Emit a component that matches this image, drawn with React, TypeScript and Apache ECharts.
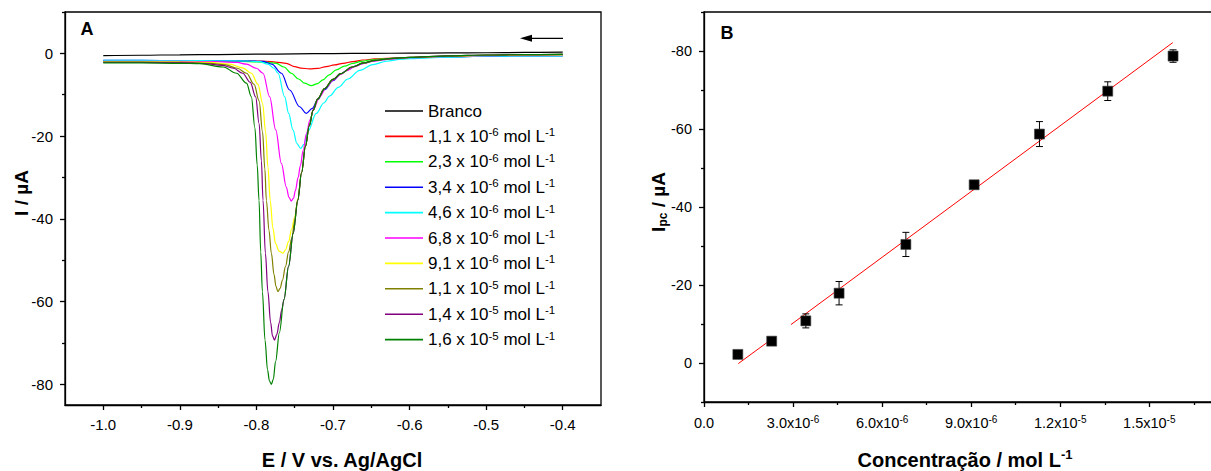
import React, { useEffect, useRef } from 'react';
import * as echarts from 'echarts';

const FONT = '"Liberation Sans", Arial, Helvetica, sans-serif';

// ---------- Panel A: differential pulse voltammograms, [E (V), I (µA)] ----------
const curveBranco = [[-1.0,-0.55],[-0.95,-0.45],[-0.9,-0.35],[-0.85,-0.28],[-0.8,-0.2],[-0.75,-0.12],[-0.7,-0.05],[-0.65,0.0],[-0.6,0.05],[-0.55,0.1],[-0.5,0.15],[-0.45,0.22],[-0.4,0.3]];
const curve11e6 = [[-1.0,-1.8],[-0.95,-1.8],[-0.9,-1.8],[-0.85,-1.8],[-0.8,-1.85],[-0.787,-1.9],[-0.775,-2.1],[-0.761,-2.4],[-0.75,-3.2],[-0.742,-3.55],[-0.7305,-3.76],[-0.72,-3.65],[-0.7088,-3.2],[-0.698,-2.8],[-0.687,-2.4],[-0.674,-2.0],[-0.661,-1.6],[-0.645,-1.35],[-0.6287,-1.2],[-0.6,-1.0],[-0.55,-0.75],[-0.5,-0.55],[-0.45,-0.45],[-0.4,-0.4]];
const curve23e6 = [[-1.0,-2.0],[-0.95,-1.95],[-0.9,-1.9],[-0.85,-1.9],[-0.82,-1.95],[-0.8,-2.05],[-0.787,-2.2],[-0.774,-2.4],[-0.764,-3.3],[-0.7544,-4.8],[-0.745,-6.2],[-0.737,-7.2],[-0.7284,-7.8],[-0.72,-7.3],[-0.7132,-6.4],[-0.705,-5.2],[-0.6957,-4.0],[-0.685,-3.1],[-0.674,-2.4],[-0.663,-1.95],[-0.652,-1.6],[-0.635,-1.3],[-0.6,-1.0],[-0.55,-0.7],[-0.5,-0.5],[-0.45,-0.35],[-0.4,-0.25]];
const curve34e6 = [[-1.0,-1.7],[-0.95,-1.7],[-0.9,-1.75],[-0.85,-1.8],[-0.8,-1.85],[-0.7914,-1.95],[-0.78,-2.6],[-0.7674,-4.8],[-0.7566,-8.85],[-0.7436,-12.9],[-0.735,-14.5],[-0.727,-13.3],[-0.72,-11.2],[-0.711,-8.8],[-0.7,-6.6],[-0.69,-5.0],[-0.68,-3.9],[-0.67,-3.0],[-0.66,-2.4],[-0.65,-1.95],[-0.635,-1.5],[-0.62,-1.25],[-0.6,-1.05],[-0.55,-0.85],[-0.5,-0.7],[-0.45,-0.6],[-0.4,-0.6]];
const curve46e6 = [[-1.0,-1.7],[-0.95,-1.7],[-0.9,-1.75],[-0.85,-1.8],[-0.81,-1.85],[-0.796,-2.0],[-0.785,-2.6],[-0.777,-3.6],[-0.7718,-4.8],[-0.7631,-10.5],[-0.7579,-14.5],[-0.7523,-18.5],[-0.7471,-21.8],[-0.7422,-23],[-0.738,-22],[-0.7327,-18.8],[-0.7218,-14.5],[-0.712,-12],[-0.7044,-10.3],[-0.693,-8.2],[-0.6806,-6.2],[-0.665,-4.1],[-0.648,-2.7],[-0.63,-1.9],[-0.61,-1.4],[-0.6,-1.25],[-0.55,-0.9],[-0.5,-0.7],[-0.45,-0.6],[-0.4,-0.6]];
const curve68e6 = [[-1.0,-1.9],[-0.95,-1.9],[-0.9,-1.95],[-0.85,-2.0],[-0.825,-2.2],[-0.813,-2.6],[-0.8,-3.6],[-0.7914,-4.8],[-0.7827,-10.5],[-0.7748,-18.5],[-0.7674,-26.6],[-0.761,-32.3],[-0.7575,-34.8],[-0.7544,-35.7],[-0.7515,-35],[-0.7492,-33.2],[-0.7455,-30],[-0.7427,-27.2],[-0.739,-23.5],[-0.7348,-19.5],[-0.73,-16],[-0.725,-13.3],[-0.7175,-10.5],[-0.7085,-8.2],[-0.7,-6.5],[-0.69,-5.1],[-0.6827,-4.2],[-0.672,-3.2],[-0.661,-2.5],[-0.645,-1.8],[-0.626,-1.35],[-0.6,-1.05],[-0.55,-0.75],[-0.5,-0.55],[-0.45,-0.45],[-0.4,-0.4]];
const curve91e6 = [[-1.0,-2.0],[-0.95,-2.0],[-0.9,-2.05],[-0.86,-2.2],[-0.835,-2.6],[-0.818,-3.5],[-0.8066,-4.8],[-0.798,-7.5],[-0.792,-12],[-0.788,-19],[-0.785,-27.5],[-0.782,-35.5],[-0.7785,-42.3],[-0.775,-46],[-0.7705,-47.8],[-0.7653,-48.3],[-0.762,-47.5],[-0.758,-45.5],[-0.754,-42.5],[-0.75,-39.5],[-0.746,-35.2],[-0.741,-28.8],[-0.736,-22.5],[-0.731,-17.5],[-0.726,-13.8],[-0.72,-11],[-0.711,-8.5],[-0.7,-6.3],[-0.69,-4.9],[-0.675,-3.3],[-0.66,-2.3],[-0.645,-1.7],[-0.626,-1.25],[-0.6,-1.0],[-0.55,-0.7],[-0.5,-0.5],[-0.45,-0.4],[-0.4,-0.35]];
const curve11e5 = [[-1.0,-2.1],[-0.95,-2.1],[-0.9,-2.2],[-0.86,-2.4],[-0.84,-2.8],[-0.825,-3.6],[-0.813,-4.8],[-0.803,-7.5],[-0.7965,-11.5],[-0.792,-19],[-0.789,-28],[-0.787,-35.5],[-0.7836,-42.8],[-0.7805,-48.3],[-0.777,-53.5],[-0.7745,-56.3],[-0.772,-57.6],[-0.769,-56.8],[-0.766,-54.8],[-0.762,-51.5],[-0.758,-48],[-0.754,-44.8],[-0.75,-40.6],[-0.746,-35.4],[-0.741,-28.8],[-0.736,-22.5],[-0.731,-17.5],[-0.726,-13.8],[-0.72,-11],[-0.711,-8.5],[-0.7,-6.3],[-0.69,-4.9],[-0.675,-3.3],[-0.66,-2.3],[-0.645,-1.7],[-0.626,-1.25],[-0.6,-0.95],[-0.55,-0.65],[-0.5,-0.45],[-0.45,-0.3],[-0.4,-0.25]];
const curve14e5 = [[-1.0,-2.2],[-0.95,-2.2],[-0.9,-2.3],[-0.87,-2.45],[-0.845,-2.9],[-0.83,-3.6],[-0.818,-4.8],[-0.808,-7],[-0.801,-10.5],[-0.7965,-17],[-0.7935,-26],[-0.7914,-35.5],[-0.7883,-48.3],[-0.785,-57.6],[-0.7815,-65],[-0.779,-68.3],[-0.7764,-69.3],[-0.7735,-68],[-0.77,-65],[-0.767,-62],[-0.764,-59.5],[-0.758,-51.5],[-0.752,-43.5],[-0.746,-35.5],[-0.741,-28.8],[-0.736,-22.5],[-0.731,-17.5],[-0.726,-13.8],[-0.72,-11],[-0.711,-8.5],[-0.7,-6.3],[-0.69,-4.9],[-0.675,-3.3],[-0.66,-2.3],[-0.645,-1.7],[-0.626,-1.25],[-0.6,-0.95],[-0.55,-0.6],[-0.5,-0.4],[-0.45,-0.3],[-0.4,-0.25]];
const curve16e5 = [[-1.0,-2.3],[-0.95,-2.3],[-0.9,-2.4],[-0.874,-2.5],[-0.8435,-3.3],[-0.826,-4.8],[-0.813,-7.2],[-0.8066,-10.5],[-0.802,-18],[-0.799,-27],[-0.7966,-35.5],[-0.7944,-48],[-0.7922,-57.6],[-0.7888,-69.3],[-0.7855,-76.5],[-0.783,-79.2],[-0.7805,-80],[-0.778,-78.8],[-0.775,-74.5],[-0.77,-67.5],[-0.764,-59.5],[-0.758,-51.5],[-0.752,-43.5],[-0.746,-35.5],[-0.741,-28.8],[-0.736,-22.5],[-0.731,-17.5],[-0.726,-13.8],[-0.72,-11],[-0.711,-8.5],[-0.7,-6.3],[-0.69,-4.9],[-0.675,-3.3],[-0.66,-2.3],[-0.645,-1.7],[-0.626,-1.25],[-0.6,-0.95],[-0.55,-0.6],[-0.5,-0.4],[-0.45,-0.3],[-0.4,-0.25]];

const curvesA = [curveBranco, curve11e6, curve23e6, curve34e6, curve46e6, curve68e6, curve91e6, curve11e5, curve14e5, curve16e5];
const concText = ['1,1', '2,3', '3,4', '4,6', '6,8', '9,1', '1,1', '1,4', '1,6'];
const concExp = ['-6', '-6', '-6', '-6', '-6', '-6', '-5', '-5', '-5'];
const seriesNamesA = ['Branco', ...concText.map((c, i) => `${c} x 10^${concExp[i]} mol L^-1`)];
const colorsA = ['#000000', '#ff0000', '#00ff00', '#0000ff', '#00ffff', '#ff00ff', '#ffff00', '#808000', '#800080', '#008000'];

const xTicksA = [-1.0, -0.9, -0.8, -0.7, -0.6, -0.5, -0.4];
const xMinorA = [-0.95, -0.85, -0.75, -0.65, -0.55, -0.45];
const yTicksA = [-80, -60, -40, -20, 0];
const yMinorA = [-70, -50, -30, -10, 10];

// ---------- Panel B: calibration ----------
const concB = [1.14e-6, 2.28e-6, 3.43e-6, 4.55e-6, 6.8e-6, 9.1e-6, 1.13e-5, 1.36e-5, 1.58e-5];
const ipcB = [-2.2, -5.6, -10.8, -17.9, -30.4, -45.7, -58.7, -69.7, -78.7];
const errB = [0.6, 0.5, 1.8, 3.0, 3.1, 0.6, 3.2, 2.4, 1.6];
const fitLow = [[1.155e-6, 0.15], [2.348e-6, -6.5]];
const fitHigh = [[2.93e-6, -9.85], [1.579e-5, -82.15]];

const xTicksB = [0, 3e-6, 6e-6, 9e-6, 1.2e-5, 1.5e-5];
const xTickMantB = ['0.0', '3.0', '6.0', '9.0', '1.2', '1.5'];
const xTickExpB = ['', '-6', '-6', '-6', '-5', '-5'];
const xMinorB = [1.5e-6, 4.5e-6, 7.5e-6, 1.05e-5, 1.35e-5, 1.65e-5];
const yTicksB = [-80, -60, -40, -20, 0];
const yMinorB = [-90, -70, -50, -30, -10, 10];

function buildOption() {
  const axisLineStyle = { color: '#000', width: 1.3 };
  const legendRich = {
    n: { fontSize: 17, fontFamily: FONT, color: '#000', lineHeight: 20 },
    s: { fontSize: 11.5, fontFamily: FONT, color: '#000', verticalAlign: 'top', lineHeight: 11 },
  };
  const xMaxB = 1.7415e-5;

  const seriesA = curvesA.map((d, i) => ({
    name: seriesNamesA[i],
    type: 'line',
    xAxisIndex: 0,
    yAxisIndex: 0,
    data: d,
    symbol: 'none',
    showSymbol: false,
    smooth: 0.35,
    smoothMonotone: 'x',
    lineStyle: { color: colorsA[i], width: 1.2 },
    itemStyle: { color: colorsA[i] },
    z: 2 + i,
  }));

  const errData = concB.map((c, i) => [c, ipcB[i] - errB[i], ipcB[i] + errB[i]]);

  const majorX = (extra: any) => ({
    type: 'value',
    axisLine: { show: true, onZero: false, lineStyle: axisLineStyle },
    splitLine: { show: false },
    ...extra,
  });
  const minorAxis = (extra: any, values: number[]) => ({
    type: 'value',
    axisLine: { show: false, onZero: false },
    axisTick: { show: true, length: 3, customValues: values, lineStyle: axisLineStyle },
    axisLabel: { show: false },
    splitLine: { show: false },
    ...extra,
  });

  return {
    animation: false,
    backgroundColor: '#fff',
    textStyle: { fontFamily: FONT },
    grid: [
      { left: 65, top: 12, width: 536, height: 393, show: true, borderColor: '#000', borderWidth: 1.3, containLabel: false, outerBoundsMode: 'none' },
      { left: 704, top: 12, width: 517, height: 390, show: true, borderColor: '#000', borderWidth: 1.3, containLabel: false, outerBoundsMode: 'none' },
    ],
    legend: {
      data: seriesNamesA,
      orient: 'vertical',
      left: 385,
      top: 102.5,
      padding: 0,
      icon: 'rect',
      itemWidth: 38,
      itemHeight: 1.6,
      itemGap: 6.9,
      selectedMode: false,
      textStyle: { fontFamily: FONT, fontSize: 17, color: '#000', rich: legendRich },
      formatter: (name: string) => {
        const i = seriesNamesA.indexOf(name);
        if (i <= 0) return '{n|Branco}';
        return `{n|${concText[i - 1]} x 10}{s|${concExp[i - 1]}}{n| mol L}{s|-1}`;
      },
    },
    xAxis: [
      majorX({
        gridIndex: 0, min: -1.05, max: -0.35,
        axisTick: { show: true, length: 5, customValues: xTicksA, lineStyle: axisLineStyle },
        axisLabel: { customValues: xTicksA, formatter: (v: number) => v.toFixed(1), fontSize: 15, color: '#000', fontFamily: FONT, margin: 12 },
      }),
      minorAxis({ gridIndex: 0, min: -1.05, max: -0.35, position: 'bottom' }, xMinorA),
      majorX({
        gridIndex: 1, min: 0, max: xMaxB,
        axisTick: { show: true, length: 5, customValues: xTicksB, lineStyle: axisLineStyle },
        axisLabel: {
          customValues: xTicksB, margin: 12, color: '#000',
          formatter: (v: number) => {
            const i = xTicksB.findIndex((t) => Math.abs(t - v) < 1e-10);
            if (i <= 0) return '{n|0.0}';
            return `{n|${xTickMantB[i]}x10}{s|${xTickExpB[i]}}`;
          },
          rich: {
            n: { fontSize: 14.5, fontFamily: FONT, color: '#000', lineHeight: 18 },
            s: { fontSize: 10, fontFamily: FONT, color: '#000', verticalAlign: 'top', lineHeight: 10 },
          },
        },
      }),
      minorAxis({ gridIndex: 1, min: 0, max: xMaxB, position: 'bottom' }, xMinorB),
    ],
    yAxis: [
      majorX({
        gridIndex: 0, min: -85, max: 10,
        axisTick: { show: true, length: 5, customValues: yTicksA, lineStyle: axisLineStyle },
        axisLabel: { customValues: yTicksA, formatter: (v: number) => String(v), fontSize: 15, color: '#000', fontFamily: FONT, margin: 12 },
      }),
      minorAxis({ gridIndex: 0, min: -85, max: 10, position: 'left' }, yMinorA),
      majorX({
        gridIndex: 1, min: -90, max: 10, inverse: true,
        axisTick: { show: true, length: 5, customValues: yTicksB, lineStyle: axisLineStyle },
        axisLabel: { customValues: yTicksB, formatter: (v: number) => String(v), fontSize: 14.5, color: '#000', fontFamily: FONT, margin: 12 },
      }),
      minorAxis({ gridIndex: 1, min: -90, max: 10, inverse: true, position: 'left' }, yMinorB),
    ],
    series: [
      ...seriesA,
      {
        name: 'fitLow', type: 'line', xAxisIndex: 2, yAxisIndex: 2, data: fitLow,
        symbol: 'none', lineStyle: { color: '#ff0000', width: 1 }, z: 3,
      },
      {
        name: 'fitHigh', type: 'line', xAxisIndex: 2, yAxisIndex: 2, data: fitHigh,
        symbol: 'none', lineStyle: { color: '#ff0000', width: 1 }, z: 3,
      },
      {
        name: 'err', type: 'custom', xAxisIndex: 2, yAxisIndex: 2, data: errData,
        encode: { x: 0, y: [1, 2] }, z: 4,
        renderItem: (params: any, api: any) => {
          const x = api.value(0);
          const lo = api.coord([x, api.value(1)]);
          const hi = api.coord([x, api.value(2)]);
          const hw = 3.5;
          const st = { stroke: '#000', lineWidth: 1 };
          return {
            type: 'group',
            children: [
              { type: 'line', shape: { x1: lo[0], y1: lo[1], x2: hi[0], y2: hi[1] }, style: st },
              { type: 'line', shape: { x1: lo[0] - hw, y1: lo[1], x2: lo[0] + hw, y2: lo[1] }, style: st },
              { type: 'line', shape: { x1: hi[0] - hw, y1: hi[1], x2: hi[0] + hw, y2: hi[1] }, style: st },
            ],
          };
        },
      },
      {
        name: 'ipc', type: 'scatter', xAxisIndex: 2, yAxisIndex: 2,
        data: concB.map((c, i) => [c, ipcB[i]]),
        symbol: 'rect', symbolSize: 10,
        itemStyle: { color: '#000', borderColor: '#444', borderWidth: 0.6, opacity: 1 },
        z: 5,
      },
    ],
    graphic: [
      { type: 'text', x: 87, y: 29, style: { text: 'A', font: `bold 18px ${FONT}`, fill: '#000', textAlign: 'center', textVerticalAlign: 'middle', align: 'center', verticalAlign: 'middle' } },
      { type: 'text', x: 727, y: 33, style: { text: 'B', font: `bold 18px ${FONT}`, fill: '#000', textAlign: 'center', textVerticalAlign: 'middle', align: 'center', verticalAlign: 'middle' } },
      { type: 'text', x: 342, y: 460, style: { text: 'E / V vs. Ag/AgCl', font: `bold 20px ${FONT}`, fill: '#000', textAlign: 'center', textVerticalAlign: 'middle', align: 'center', verticalAlign: 'middle' } },
      {
        type: 'text', x: 965, y: 460,
        style: {
          text: '{b|Concentração / mol L}{s|-1}',
          rich: {
            b: { fontSize: 20, fontWeight: 'bold', fontFamily: FONT, fill: '#000', color: '#000', lineHeight: 24 },
            s: { fontSize: 13, fontWeight: 'bold', fontFamily: FONT, fill: '#000', color: '#000', verticalAlign: 'top', lineHeight: 13 },
          },
          textAlign: 'center', textVerticalAlign: 'middle', align: 'center', verticalAlign: 'middle',
        },
      },
      {
        type: 'text', x: 21, y: 193, rotation: Math.PI / 2,
        style: { text: 'I / µA', font: `bold 19px ${FONT}`, fill: '#000', textAlign: 'center', textVerticalAlign: 'middle', align: 'center', verticalAlign: 'middle' },
      },
      {
        type: 'text', x: 658, y: 202, rotation: Math.PI / 2,
        style: {
          text: '{b|I}{sub|pc}{b| / µA}',
          rich: {
            b: { fontSize: 19, fontWeight: 'bold', fontFamily: FONT, fill: '#000', color: '#000', lineHeight: 22 },
            sub: { fontSize: 12, fontWeight: 'bold', fontFamily: FONT, fill: '#000', color: '#000', verticalAlign: 'bottom', lineHeight: 11 },
          },
          textAlign: 'center', textVerticalAlign: 'middle', align: 'center', verticalAlign: 'middle',
        },
      },
      { type: 'line', shape: { x1: 528, y1: 38.3, x2: 563, y2: 38.3 }, style: { stroke: '#000', lineWidth: 1.2 } },
      { type: 'polygon', shape: { points: [[520, 38.3], [532, 34.8], [532, 41.8]] }, style: { fill: '#000' } },
    ],
  };
}

export default function App() {
  const ref = useRef<HTMLDivElement>(null);
  useEffect(() => {
    if (!ref.current) return;
    const chart = echarts.init(ref.current, null, { renderer: 'svg' });
    chart.setOption(buildOption() as any);
    return () => chart.dispose();
  }, []);
  return (
    <div
      ref={ref}
      style={{ position: 'absolute', left: 0, top: 0, width: 1211, height: 471, background: '#fff' }}
    />
  );
}
